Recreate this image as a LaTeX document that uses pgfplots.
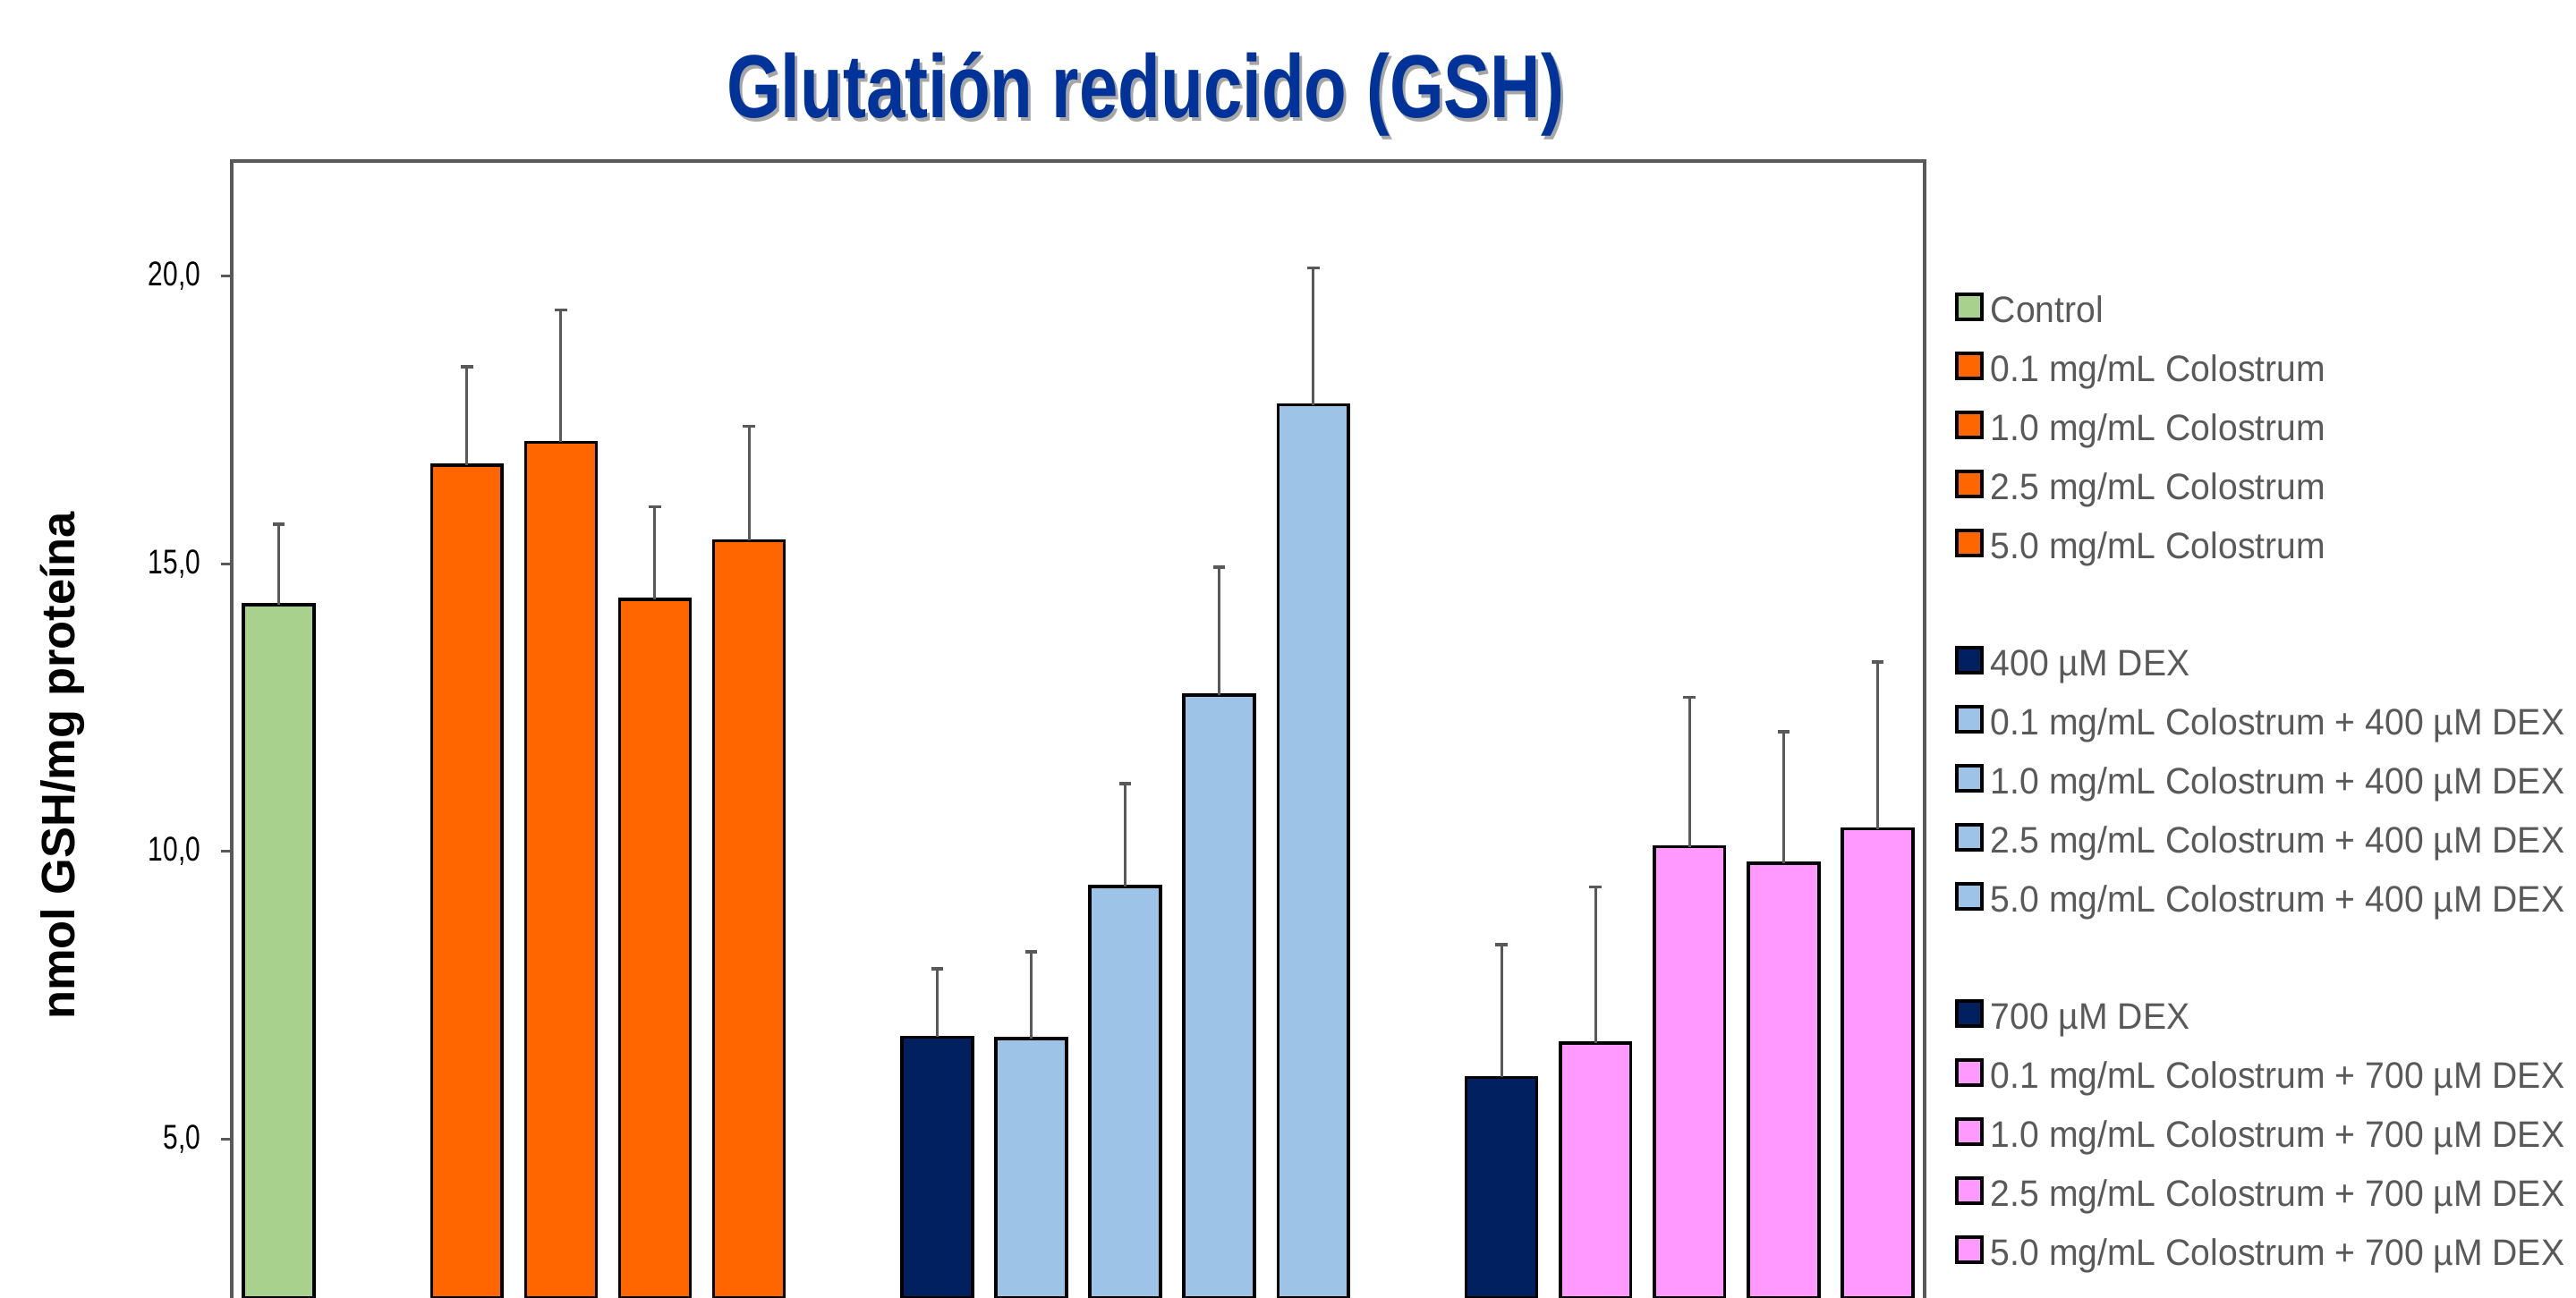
\documentclass[border=0pt]{standalone}
\usepackage{fontspec}
\setmainfont{Liberation Sans}
\newfontfamily\ticksfont{Liberation Sans}[FakeStretch=0.78]
\newfontfamily\legfont{Liberation Sans}[FakeStretch=0.95]
\newfontfamily\titlefont{Liberation Sans Bold}[FakeStretch=0.78]
\usepackage{pgfplots}
\pgfplotsset{compat=1.18}
\definecolor{cgreen}{HTML}{A9D18E}
\definecolor{corange}{HTML}{FF6600}
\definecolor{cnavy}{HTML}{002060}
\definecolor{cblue}{HTML}{9DC3E6}
\definecolor{cpink}{HTML}{FF99FF}
\definecolor{axgray}{HTML}{595959}
\definecolor{titleblue}{HTML}{003399}
\pgfplotsset{
  mybar/.style={ybar, bar width=0.75, bar shift=0pt, draw=black, line width=0.9bp, fill=#1,
    legend image code/.code={\draw[fill=#1, draw=black, line width=1bp] (0bp,-2bp) rectangle (7bp,5bp); \path (9bp,0bp);},
    error bars/.cd, y dir=plus, y explicit,
    error bar style={draw=axgray, line width=0.75bp},
    error mark options={rotate=90, mark size=1.7bp, draw=axgray, line width=0.9bp}}
}
\begin{document}
\begin{tikzpicture}
\begin{axis}[
  scale only axis, width=473bp, height=317.75bp,
  xmin=-0.5, xmax=17.5, ymin=2.236, ymax=22,
  axis x line*=top, axis y line*=box,
  axis line style={draw=axgray, line width=1bp, line cap=rect},
  xtick=\empty,
  ytick={5,10,15,20}, yticklabels={{5,0},{10,0},{15,0},{20,0}},
  ytick pos=left, tick align=outside, major tick length=3bp,
  tick style={draw=axgray, line width=0.7bp},
  yticklabel style={font=\ticksfont\fontsize{9.6bp}{11bp}\selectfont, anchor=east, inner sep=0pt, xshift=-5.5bp},
  legend style={at={(rel axis cs:1,1)}, anchor=north west, xshift=8.5bp, yshift=-36.84bp,
    draw=none, fill=none, inner sep=0pt, outer sep=0pt, row sep=5.75bp,
    font=\legfont\fontsize{10.3bp}{12bp}\selectfont, text=axgray,
    nodes={inner sep=0pt, text height=8bp, text depth=2.5bp}},
  legend cell align=left,
]
\addplot[mybar=cgreen] coordinates {(0,14.29) +- (0,1.40)};
\addlegendentry{Control}
\addplot[mybar=corange] coordinates {(2,16.71) +- (0,1.71)};
\addlegendentry{0.1 mg/mL Colostrum}
\addplot[mybar=corange] coordinates {(3,17.11) +- (0,2.30)};
\addlegendentry{1.0 mg/mL Colostrum}
\addplot[mybar=corange] coordinates {(4,14.38) +- (0,1.61)};
\addlegendentry{2.5 mg/mL Colostrum}
\addplot[mybar=corange] coordinates {(5,15.40) +- (0,1.99)};
\addlegendentry{5.0 mg/mL Colostrum}
\addlegendimage{empty legend}
\addlegendentry{}
\addplot[mybar=cnavy] coordinates {(7,6.77) +- (0,1.19)};
\addlegendentry{400 µM DEX}
\addplot[mybar=cblue] coordinates {(8,6.75) +- (0,1.50)};
\addlegendentry{0.1 mg/mL Colostrum + 400 µM DEX}
\addplot[mybar=cblue] coordinates {(9,9.39) +- (0,1.79)};
\addlegendentry{1.0 mg/mL Colostrum + 400 µM DEX}
\addplot[mybar=cblue] coordinates {(10,12.72) +- (0,2.22)};
\addlegendentry{2.5 mg/mL Colostrum + 400 µM DEX}
\addplot[mybar=cblue] coordinates {(11,17.76) +- (0,2.38)};
\addlegendentry{5.0 mg/mL Colostrum + 400 µM DEX}
\addlegendimage{empty legend}
\addlegendentry{}
\addplot[mybar=cnavy] coordinates {(13,6.07) +- (0,2.31)};
\addlegendentry{700 µM DEX}
\addplot[mybar=cpink] coordinates {(14,6.67) +- (0,2.71)};
\addlegendentry{0.1 mg/mL Colostrum + 700 µM DEX}
\addplot[mybar=cpink] coordinates {(15,10.08) +- (0,2.60)};
\addlegendentry{1.0 mg/mL Colostrum + 700 µM DEX}
\addplot[mybar=cpink] coordinates {(16,9.79) +- (0,2.29)};
\addlegendentry{2.5 mg/mL Colostrum + 700 µM DEX}
\addplot[mybar=cpink] coordinates {(17,10.39) +- (0,2.90)};
\addlegendentry{5.0 mg/mL Colostrum + 700 µM DEX}
\coordinate (BL) at (rel axis cs:0,0);
\coordinate (TL) at (rel axis cs:0,1);
\coordinate (TR) at (rel axis cs:1,1);
\end{axis}
\node[rotate=90, font=\bfseries\fontsize{13.1bp}{15bp}\selectfont] at ([xshift=-47.25bp, yshift=148.75bp]BL) {nmol GSH/mg proteína};
\node[anchor=base, text=black, opacity=0.35, font=\titlefont\fontsize{25bp}{30bp}\selectfont] at ([xshift=256.05bp, yshift=11.2bp]TL) {Glutatión reducido (GSH)};
\node[anchor=base, text=titleblue, font=\titlefont\fontsize{25bp}{30bp}\selectfont] at ([xshift=255.25bp, yshift=12bp]TL) {Glutatión reducido (GSH)};
\pgfresetboundingbox
\path ([xshift=-64.75bp]BL) rectangle ([xshift=182bp, yshift=45bp]TR);
\end{tikzpicture}
\end{document}
